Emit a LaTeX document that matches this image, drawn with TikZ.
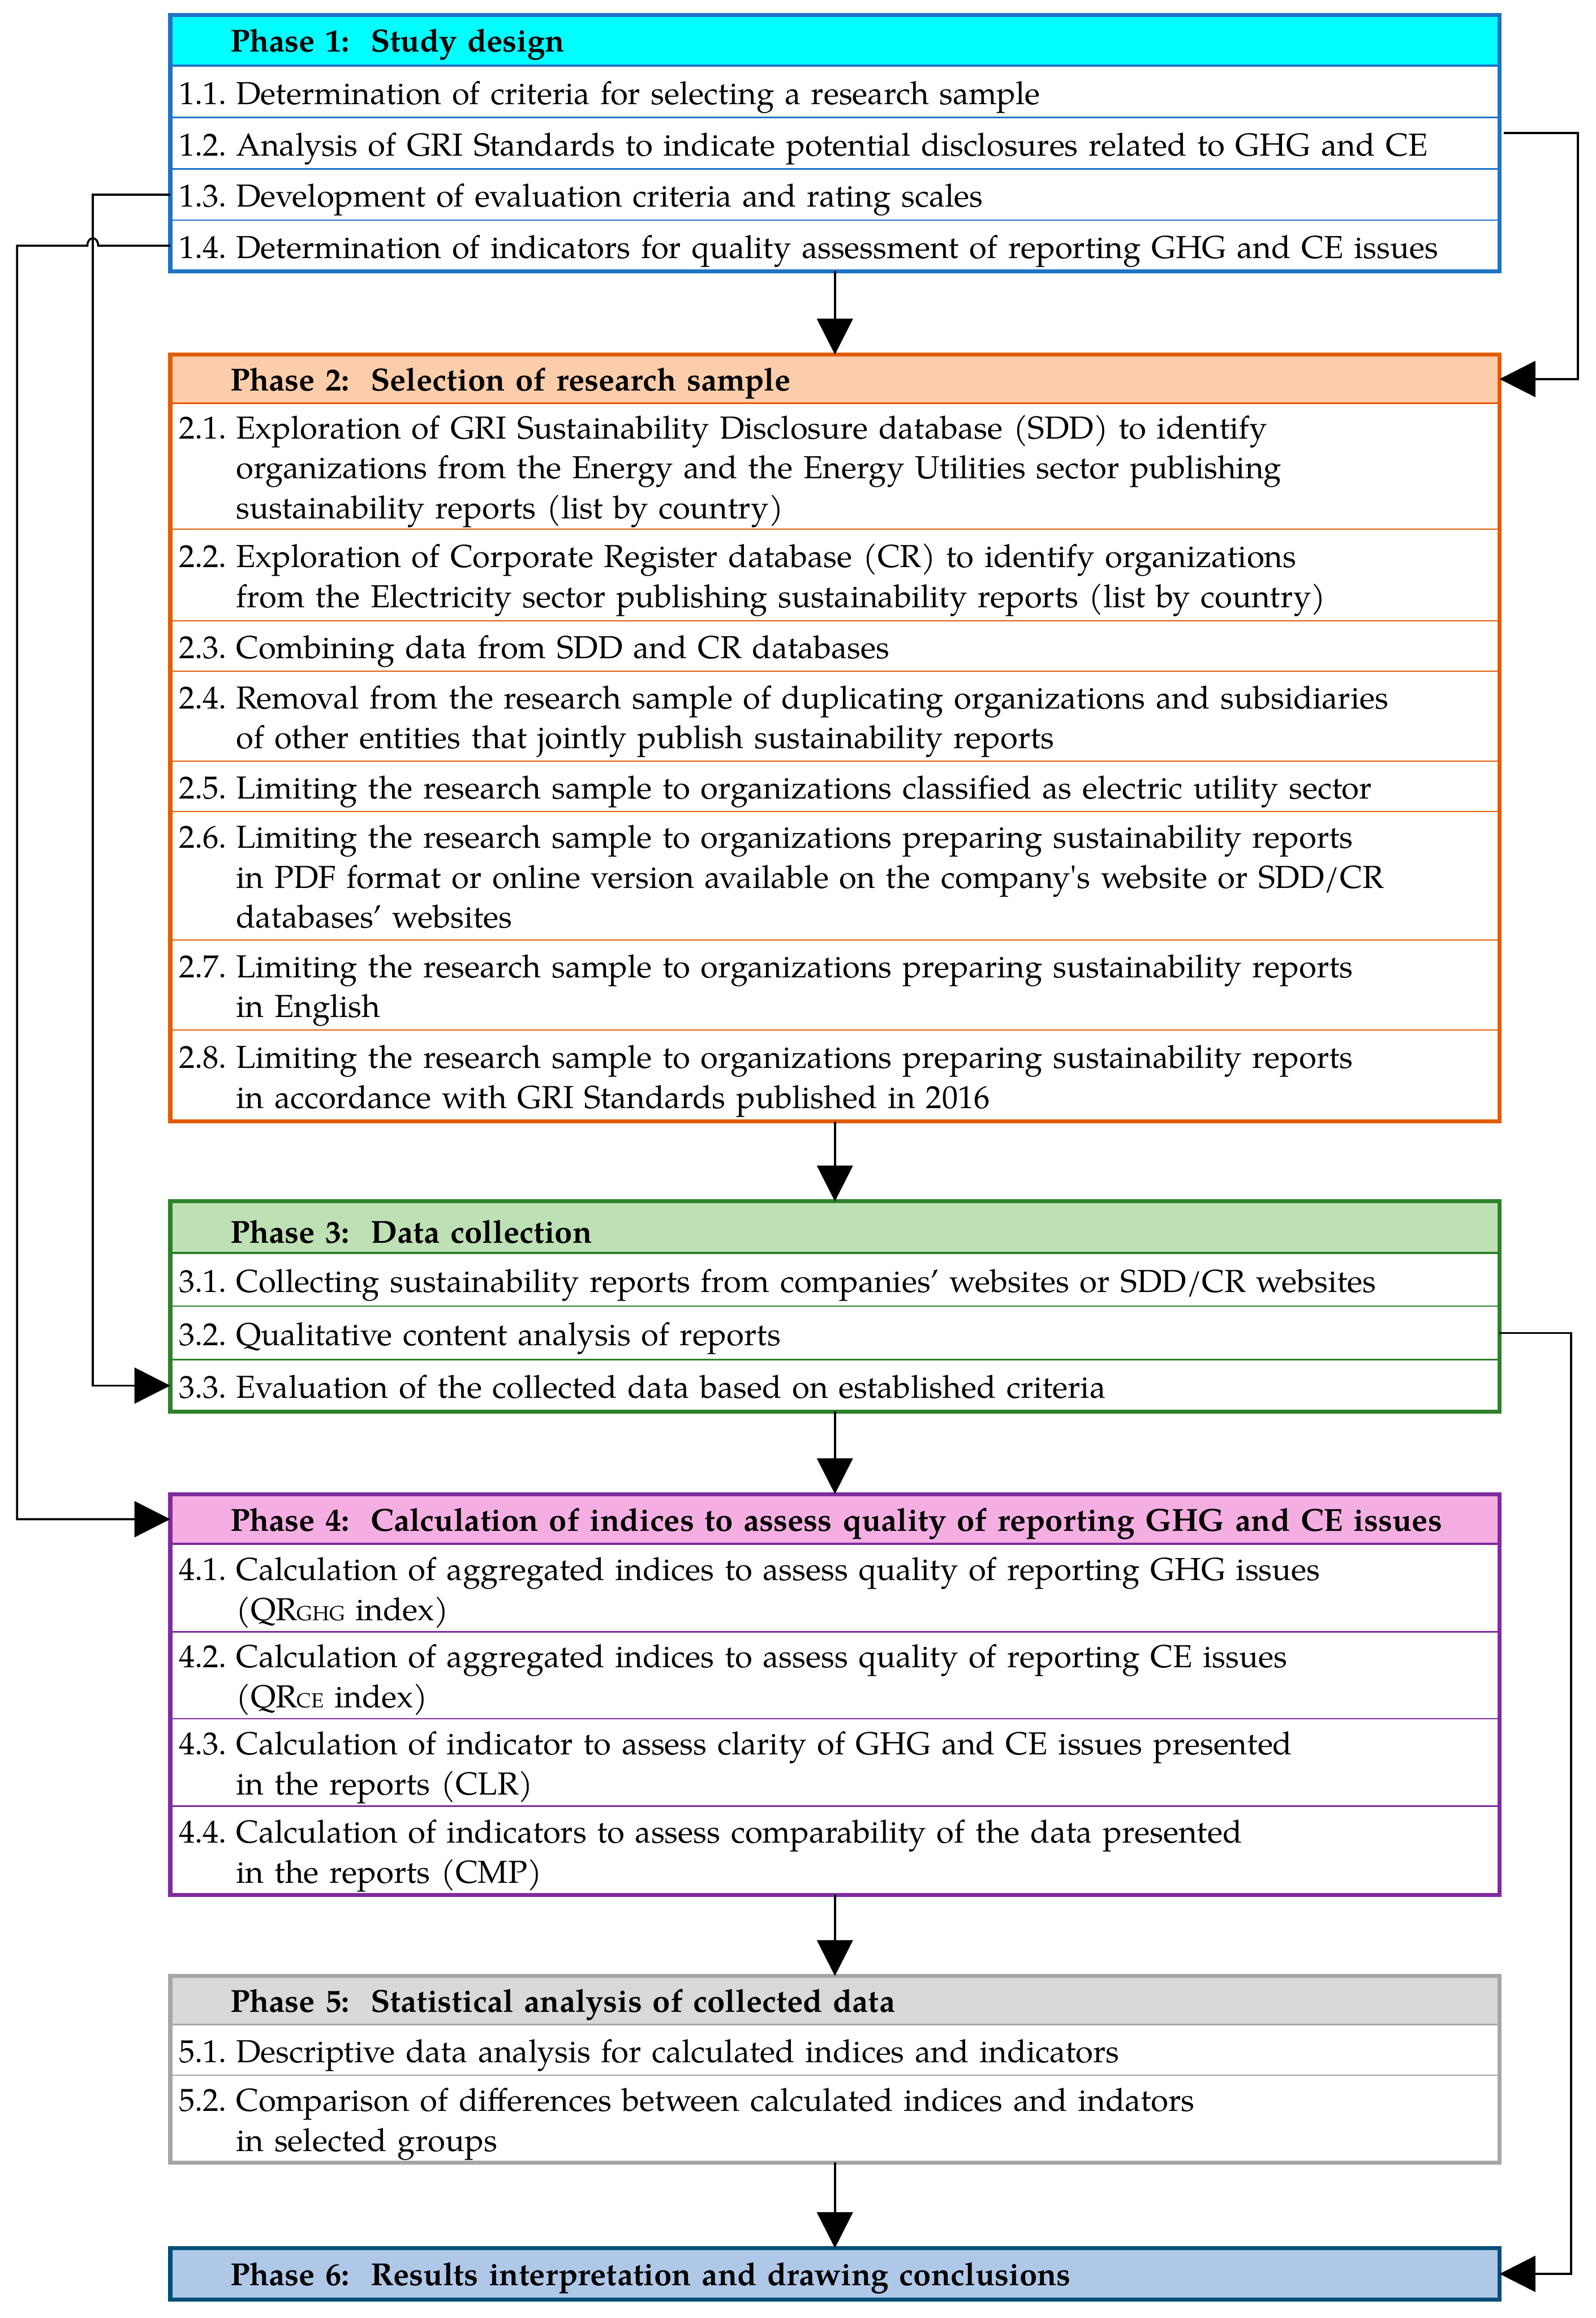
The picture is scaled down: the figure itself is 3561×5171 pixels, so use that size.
\documentclass[tikz,border=0pt]{standalone}
\usepackage{fontspec}
\setmainfont{TeX Gyre Pagella}
\usetikzlibrary{arrows.meta,calc}
\definecolor{bA}{RGB}{31,115,198}
\definecolor{fA}{RGB}{0,255,255}
\definecolor{bB}{RGB}{226,92,4}
\definecolor{fB}{RGB}{252,205,170}
\definecolor{bC}{RGB}{46,128,44}
\definecolor{fC}{RGB}{189,224,180}
\definecolor{bD}{RGB}{127,44,158}
\definecolor{fD}{RGB}{245,174,226}
\definecolor{bE}{RGB}{166,166,166}
\definecolor{fE}{RGB}{217,217,217}
\definecolor{bF}{RGB}{0,78,122}
\definecolor{fF}{RGB}{176,200,232}
\newcommand{\rowfont}{\fontsize{14.2}{17.8}\selectfont}
\newcommand{\rowitem}[2]{\raisebox{-2pt}[\height][\depth]{\begin{tabular}{@{}p{25.6pt}@{}l@{}}#1&#2\end{tabular}}}
\newcommand{\hdrtext}[1]{\hspace*{23pt}\raisebox{-2pt}[\height][\depth]{\textbf{#1}}}
\newcommand{\smc}[1]{{\fontsize{9.1}{9.1}\selectfont #1}}
\tikzset{
  conn/.style={line width=0.9pt, -{Triangle[length=16pt,width=16pt]}},
  rowbox/.style={draw=#1, line width=0.6pt, fill=white, anchor=north west,
    minimum width=593.2pt, text width=585.6pt, inner xsep=3.8pt, inner ysep=0pt,
    outer sep=0pt, align=left, font=\rowfont},
  hdrbox/.style 2 args={draw=#1, fill=#2, line width=1.2pt, anchor=north west,
    minimum width=593.2pt, text width=585.6pt, inner xsep=3.8pt, inner ysep=0pt,
    outer sep=0pt, align=left, font=\rowfont},
  rh/.style={minimum height=#1*0.2pt},
  frame/.style={draw=#1, line width=1.8pt}
}
\begin{document}
\begin{tikzpicture}[x=0.2pt,y=-0.2pt]
\useasboundingbox (0,0) rectangle (3561,5171);

% Phase 1
\node[hdrbox={bA}{fA}, rh=114] (p1h) at (380,33) {\hdrtext{Phase 1:\ \ Study design}};
\node[rowbox=bA, rh=115] (r11) at (380,147) {\rowitem{1.1.}{Determination of criteria for selecting a research sample}};
\node[rowbox=bA, rh=115] (r12) at (380,262) {\rowitem{1.2.}{Analysis of GRI Standards to indicate potential disclosures related to GHG and CE}};
\node[rowbox=bA, rh=114] (r13) at (380,377) {\rowitem{1.3.}{Development of evaluation criteria and rating scales}};
\node[rowbox=bA, rh=114] (r14) at (380,491) {\rowitem{1.4.}{Determination of indicators for quality assessment of reporting GHG and CE issues}};
\draw[frame=bA] (p1h.north west) rectangle (r14.south east);

% Phase 2
\node[hdrbox={bB}{fB}, rh=109] (p2h) at (380,791) {\hdrtext{Phase 2:\ \ Selection of research sample}};
\node[rowbox=bB, rh=280] (r21) at (380,900) {\rowitem{2.1.}{Exploration of GRI Sustainability Disclosure database (SDD) to identify\\ &organizations from the Energy and the Energy Utilities sector publishing\\ &sustainability reports (list by country)}};
\node[rowbox=bB, rh=205] (r22) at (380,1180) {\rowitem{2.2.}{Exploration of Corporate Register database (CR) to identify organizations\\ &from the Electricity sector publishing sustainability reports (list by country)}};
\node[rowbox=bB, rh=112] (r23) at (380,1385) {\rowitem{2.3.}{Combining data from SDD and CR databases}};
\node[rowbox=bB, rh=201] (r24) at (380,1497) {\rowitem{2.4.}{Removal from the research sample of duplicating organizations and subsidiaries\\ &of other entities that jointly publish sustainability reports}};
\node[rowbox=bB, rh=112] (r25) at (380,1698) {\rowitem{2.5.}{Limiting the research sample to organizations classified as electric utility sector}};
\node[rowbox=bB, rh=287] (r26) at (380,1810) {\rowitem{2.6.}{Limiting the research sample to organizations preparing sustainability reports\\ &in PDF format or online version available on the company\textquotesingle s website or SDD/CR\\ &databases’ websites}};
\node[rowbox=bB, rh=201] (r27) at (380,2097) {\rowitem{2.7.}{Limiting the research sample to organizations preparing sustainability reports\\ &in English}};
\node[rowbox=bB, rh=204] (r28) at (380,2298) {\rowitem{2.8.}{Limiting the research sample to organizations preparing sustainability reports\\ &in accordance with GRI Standards published in 2016}};
\draw[frame=bB] (p2h.north west) rectangle (r28.south east);

% Phase 3
\node[hdrbox={bC}{fC}, rh=116] (p3h) at (380,2680) {\hdrtext{Phase 3:\ \ Data collection}};
\node[rowbox=bC, rh=118] (r31) at (380,2796) {\rowitem{3.1.}{Collecting sustainability reports from companies’ websites or SDD/CR websites}};
\node[rowbox=bC, rh=119] (r32) at (380,2914) {\rowitem{3.2.}{Qualitative content analysis of reports}};
\node[rowbox=bC, rh=116] (r33) at (380,3033) {\rowitem{3.3.}{Evaluation of the collected data based on established criteria}};
\draw[frame=bC] (p3h.north west) rectangle (r33.south east);

% Phase 4
\node[hdrbox={bD}{fD}, rh=112] (p4h) at (380,3333) {\hdrtext{Phase 4:\ \ Calculation of indices to assess quality of reporting GHG and CE issues}};
\node[rowbox=bD, rh=195] (r41) at (380,3445) {\rowitem{4.1.}{Calculation of aggregated indices to assess quality of reporting GHG issues\\ &(QR\smc{GHG} index)}};
\node[rowbox=bD, rh=194] (r42) at (380,3640) {\rowitem{4.2.}{Calculation of aggregated indices to assess quality of reporting CE issues\\ &(QR\smc{CE} index)}};
\node[rowbox=bD, rh=195] (r43) at (380,3834) {\rowitem{4.3.}{Calculation of indicator to assess clarity of GHG and CE issues presented\\ &in the reports (CLR)}};
\node[rowbox=bD, rh=198] (r44) at (380,4029) {\rowitem{4.4.}{Calculation of indicators to assess comparability of the data presented\\ &in the reports (CMP)}};
\draw[frame=bD] (p4h.north west) rectangle (r44.south east);

% Phase 5
\node[hdrbox={bE}{fE}, rh=109] (p5h) at (380,4408) {\hdrtext{Phase 5:\ \ Statistical analysis of collected data}};
\node[rowbox=bE, rh=112] (r51) at (380,4517) {\rowitem{5.1.}{Descriptive data analysis for calculated indices and indicators}};
\node[rowbox=bE, rh=195] (r52) at (380,4629) {\rowitem{5.2.}{Comparison of differences between calculated indices and indators\\ &in selected groups}};
\draw[frame=bE] (p5h.north west) rectangle (r52.south east);

% Phase 6
\node[hdrbox={bF}{fF}, rh=115] (p6h) at (380,5015) {\hdrtext{Phase 6:\ \ Results interpretation and drawing conclusions}};
\draw[frame=bF] (p6h.north west) rectangle (p6h.south east);

% connectors
\draw[conn] (r14.south) -- (p2h.north);
\draw[conn] (r28.south) -- (p3h.north);
\draw[conn] (r33.south) -- (p4h.north);
\draw[conn] (r44.south) -- (p5h.north);
\draw[conn] (r52.south) -- (p6h.north);
\draw[conn] ($(r12.east)+(10,-23)$) -- ++(165,0) |- (p2h.east);
\draw[conn] (r13.west) -- ++(-173,0) |- (r33.west);
\draw[conn] (r14.west) -- (219,548) .. controls (219,526) and (195,526) .. (195,548) -- (38,548) |- (p4h.west);
\draw[conn] (r32.east) -- ++(160,0) |- (p6h.east);
\end{tikzpicture}
\end{document}
